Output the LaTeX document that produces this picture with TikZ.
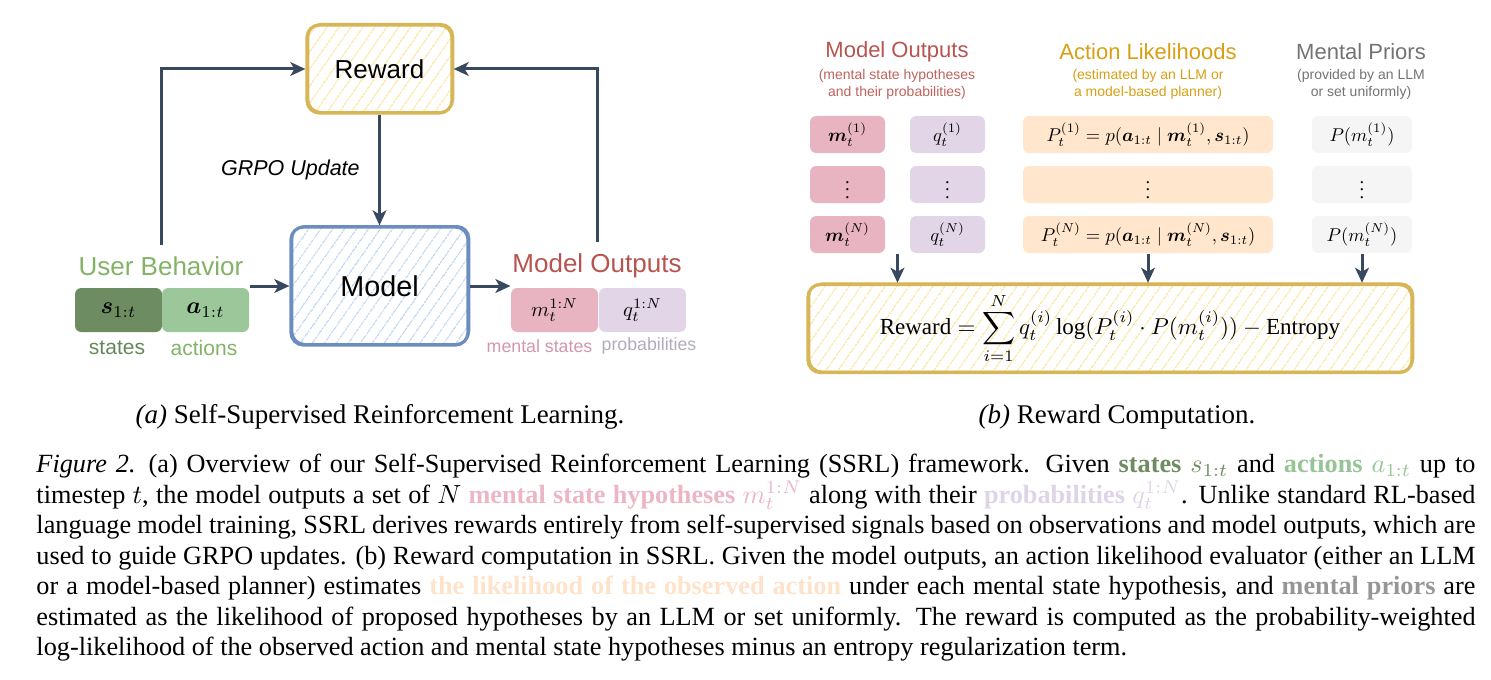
\documentclass[tikz,border=0pt]{standalone}
\usepackage{fix-cm}
\usepackage{fontspec}
\setmainfont{Liberation Serif}
\setsansfont{Liberation Sans}
\usepackage{amsmath}
\usepackage{bm}
\usepackage{graphicx}
\usetikzlibrary{arrows.meta,patterns.meta,calc,positioning}

\definecolor{arrowcol}{RGB}{56,72,94}
\definecolor{rewardline}{RGB}{214,182,86}
\definecolor{rewardhatch}{RGB}{252,226,150}
\definecolor{modelline}{RGB}{108,142,191}
\definecolor{modelhatch}{RGB}{186,208,242}
\definecolor{statefill}{RGB}{109,140,97}
\definecolor{actionfill}{RGB}{155,199,155}
\definecolor{mentalfill}{RGB}{233,180,193}
\definecolor{probfill}{RGB}{225,213,231}
\definecolor{likefill}{RGB}{255,230,204}
\definecolor{priorfill}{RGB}{245,245,245}
\definecolor{usergreen}{RGB}{130,179,102}
\definecolor{statetext}{RGB}{104,134,92}
\definecolor{outred}{RGB}{184,84,80}
\definecolor{likegold}{RGB}{215,160,20}
\definecolor{priorgray}{RGB}{115,115,115}
\definecolor{mentaltext}{RGB}{212,150,170}
\definecolor{probtext}{RGB}{178,170,190}
\definecolor{capstate}{RGB}{110,140,95}
\definecolor{capaction}{RGB}{150,196,150}
\definecolor{capmental}{RGB}{236,182,196}
\definecolor{capprob}{RGB}{222,212,232}
\definecolor{caplike}{RGB}{255,226,202}
\definecolor{capprior}{RGB}{150,150,150}

\newcommand{\cellmath}[2]{\scalebox{#1}{$#2$}}

\begin{document}
\begin{tikzpicture}[x=0.4pt, y=-0.4pt,
    flow/.style={draw=arrowcol, line width=1.2pt,
        -{Stealth[length=6pt, width=5.5pt, inset=1.6pt]}},
    sketchbox/.style 2 args={draw=#1, line width=1.3pt, rounded corners=5pt,
        preaction={pattern={Lines[angle=55, distance=4pt, line width=0.45pt]},
            pattern color=#2},
        postaction={draw=#1, line width=0.6pt,
            transform canvas={xshift=0.6pt, yshift=0.5pt}}},
    cell/.style={rounded corners=2.5pt, inner sep=0pt},
    bigcell/.style={cell, minimum width=34.8pt, minimum height=17.6pt},
    smallcell/.style={cell, minimum height=14.8pt},
    lbl/.style={inner sep=0pt, font=\sffamily\fontsize{10.4}{12}\selectfont},
    tag/.style={inner sep=0pt, font=\sffamily\fontsize{8.4}{10}\selectfont},
    tinytag/.style={inner sep=0pt, font=\sffamily\fontsize{7.1}{9}\selectfont},
    head/.style={inner sep=0pt, font=\sffamily\fontsize{8.8}{10}\selectfont},
    subhead/.style={inner sep=0pt, align=center,
        font=\sffamily\fontsize{5.6}{6.8}\selectfont}]

    \useasboundingbox (0,0) rectangle (1491,679);

    % (a) self-supervised RL loop
    \node[sketchbox={rewardline}{rewardhatch}, minimum width=58pt,
        minimum height=35.2pt, font=\sffamily\fontsize{10.4}{12}\selectfont]
        (reward) at (379.5,69) {Reward};
    \node[sketchbox={modelline}{modelhatch}, minimum width=70.8pt,
        minimum height=47.2pt, font=\sffamily\fontsize{11.5}{13}\selectfont]
        (model) at (379.5,286) {Model};

    \node[lbl, text=usergreen] (userlbl) at (161,266) {User Behavior};
    \node[bigcell, fill=statefill] (sbox) at (118.5,310) {\cellmath{0.95}{\bm{s}_{1:t}}};
    \node[bigcell, fill=actionfill] (abox) at (205.5,310) {\cellmath{0.95}{\bm{a}_{1:t}}};
    \node[tag, text=statetext] (stlbl) at (117,348) {states};
    \node[tag, text=usergreen] (aclbl) at (204,348) {actions};

    \node[lbl, text=outred] (outlbl) at (597,266) {Model Outputs};
    \node[bigcell, fill=mentalfill] (mbox) at (554.5,310) {\cellmath{0.83}{m_t^{1:N}}};
    \node[bigcell, fill=probfill] (qbox) at (642.5,310) {\cellmath{0.83}{q_t^{1:N}}};
    \node[tinytag, text=mentaltext] (mlbl) at (539.5,346) {mental states};
    \node[tinytag, text=probtext] (qlbl) at (649,346) {probabilities};

    \draw[flow, shorten <=4.4pt] (userlbl.north) |- (reward.west);
    \draw[flow, shorten <=4.4pt] (outlbl.north) |- (reward.east);
    \draw[flow] (reward.south) -- (model.north)
        node[midway, left=4pt, font=\sffamily\itshape\fontsize{8.6}{10}\selectfont]
        {GRPO Update};
    \draw[flow] (abox.east |- model.west) -- (model.west);
    \draw[flow] (model.east) -- (mbox.west |- model.east);

    % (b) reward computation
    \node[head, text=outred] (outhead) at (897,52) {Model Outputs};
    \node[subhead, text=outred!92] at (897,84.5)
        {(mental state hypotheses\\and their probabilities)};
    \node[head, text=likegold] (likehead) at (1148,52) {Action Likelihoods};
    \node[subhead, text=likegold] at (1148,84.5)
        {(estimated by an LLM or\\a model-based planner)};
    \node[head, text=priorgray] (priorhead) at (1361,52) {Mental Priors};
    \node[subhead, text=priorgray] at (1361,84.5)
        {(provided by an LLM\\or set uniformly)};

    \foreach \r/\yy/\mm/\qq/\pp/\pr in {
        1/134.5/{\bm{m}_t^{(1)}}/{q_t^{(1)}}/{P_t^{(1)} = p(\bm{a}_{1:t} \mid \bm{m}_t^{(1)}, \bm{s}_{1:t})}/{P(m_t^{(1)})},
        2/184.5/{\vdots}/{\vdots}/{\vdots}/{\vdots},
        3/234.5/{\bm{m}_t^{(N)}}/{q_t^{(N)}}/{P_t^{(N)} = p(\bm{a}_{1:t} \mid \bm{m}_t^{(N)}, \bm{s}_{1:t})}/{P(m_t^{(N)})}
    } {
        \node[smallcell, fill=mentalfill, minimum width=30pt] (m\r) at (847.5,\yy) {\cellmath{0.74}{\mm}};
        \node[smallcell, fill=probfill, minimum width=30pt] (q\r) at (947.5,\yy) {\cellmath{0.74}{\qq}};
        \node[smallcell, fill=likefill, minimum width=100pt] (p\r) at (1148,\yy) {\cellmath{0.74}{\pp}};
        \node[smallcell, fill=priorfill, minimum width=40pt] (pr\r) at (1362,\yy) {\cellmath{0.74}{\pr}};
    }

    \node[sketchbox={rewardline}{rewardhatch}, minimum width=241.6pt,
        minimum height=30.8pt] (rewardsum) at (1110,328.5)
        {\cellmath{0.92}{\displaystyle \mathrm{Reward} = \sum_{i=1}^{N} q_t^{(i)}
          \log(P_t^{(i)} \cdot P(m_t^{(i)})) - \mathrm{Entropy}}};

    \coordinate (mqend) at ($(m3.south)!0.5!(q3.south)$);
    \draw[flow] (mqend) -- (mqend |- rewardsum.north);
    \draw[flow] (p3.south) -- (p3.south |- rewardsum.north);
    \draw[flow] (pr3.south) -- (pr3.south |- rewardsum.north);

    % captions
    \node[font=\fontsize{10.8}{12}\selectfont] (capa) at (380,417)
        {\textit{(a)} Self-Supervised Reinforcement Learning.};
    \node[font=\fontsize{10.8}{12}\selectfont] (capb) at (1117,417)
        {\textit{(b)} Reward Computation.};

    \node[anchor=north west, inner sep=0pt, text width=575.6pt, align=justify,
        font=\fontsize{10.5}{12.2}\selectfont] (figcap) at (36,454) {%
        \lineskiplimit=-10pt \lineskip=0pt \hyphenpenalty=10000 \tolerance=9999
        \textit{Figure 2.}\enspace(a) Overview of our Self-Supervised Reinforcement Learning (SSRL) framework. Given \textbf{\color{capstate}states} {\color{capstate}$s_{1:t}$} and \textbf{\color{capaction}actions} {\color{capaction}$a_{1:t}$} up to\linebreak
        timestep $t$, the model outputs a set of $N$ \textbf{\color{capmental}mental state hypotheses} {\color{capmental}$m_t^{1:N}$} along with their \textbf{\color{capprob}probabilities} {\color{capprob}$q_t^{1:N}$}. Unlike standard RL-based\linebreak
        language model training, SSRL derives rewards entirely from self-supervised signals based on observations and model outputs, which are\linebreak
        used to guide GRPO updates. (b) Reward computation in SSRL. Given the model outputs, an action likelihood evaluator (either an LLM\linebreak
        or a model-based planner) estimates \textbf{\color{caplike}the likelihood of the observed action} under each mental state hypothesis, and \textbf{\color{capprior}mental priors} are\linebreak
        estimated as the likelihood of proposed hypotheses by an LLM or set uniformly. The reward is computed as the probability-weighted\linebreak
        log-likelihood of the observed action and mental state hypotheses minus an entropy regularization term.};
\end{tikzpicture}
\end{document}
